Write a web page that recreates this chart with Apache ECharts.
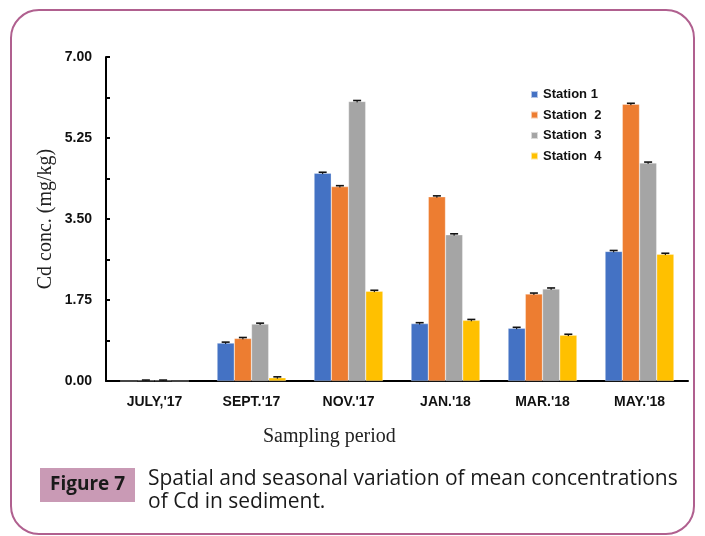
<!DOCTYPE html>
<html>
<head>
<meta charset="utf-8">
<script src="https://cdn.jsdelivr.net/npm/echarts@6/dist/echarts.min.js"></script>
<style>html,body{margin:0;padding:0;background:#fff;}#c{width:705px;height:536px;}</style>
</head>
<body>
<div id="c"></div>
<script>
var categories = ["JULY,'17", "SEPT.'17", "NOV.'17", "JAN.'18", "MAR.'18", "MAY.'18"];
var seriesNames = ["Station 1", "Station  2", "Station  3", "Station  4"];
var station1 = [0.00, 0.82, 4.49, 1.24, 1.14, 2.80];
var station2 = [0.01, 0.92, 4.20, 3.98, 1.88, 5.98];
var station3 = [0.01, 1.23, 6.04, 3.16, 1.99, 4.71];
var station4 = [0.00, 0.07, 1.94, 1.31, 0.99, 2.74];
var err1 = [0.00, 0.02, 0.02, 0.02, 0.02, 0.02];
var err2 = [0.01, 0.02, 0.02, 0.02, 0.02, 0.02];
var err3 = [0.01, 0.02, 0.02, 0.02, 0.02, 0.02];
var err4 = [0.00, 0.02, 0.02, 0.02, 0.02, 0.02];
var yTicks = [0, 1.75, 3.5, 5.25, 7];
var colors = ['#4472C4', '#ED7D31', '#A5A5A5', '#FFC000'];

var values = [station1, station2, station3, station4];
var errs = [err1, err2, err3, err4];
var catGap = 0.29;

var chart = echarts.init(document.getElementById('c'));
var series = [];
values.forEach(function (v, s) {
  series.push({
    name: seriesNames[s], type: 'bar', data: v,
    barGap: '0%', barCategoryGap: (catGap * 100) + '%',
    itemStyle: { color: colors[s], borderColor: 'rgba(255,255,255,0.6)', borderWidth: 0.5 },
    z: 2
  });
});
var errData = [];
values.forEach(function (v, s) {
  v.forEach(function (val, i) {
    if (val > 0 || errs[s][i] > 0) errData.push([i, val, errs[s][i], s]);
  });
});
series.push({
  type: 'custom', data: errData, z: 5, silent: true, legendHoverLink: false,
  renderItem: function (params, api) {
    var i = api.value(0), val = api.value(1), e = api.value(2), s = api.value(3);
    var band = api.size([1, 0])[0];
    var bw = band * (1 - catGap) / 4;
    var cx = api.coord([i, val])[0] + (s - 1.5) * bw;
    var yTop = api.coord([i, val + e])[1];
    var yBot = api.coord([i, Math.max(val - e, 0)])[1];
    var half = 4;
    return {
      type: 'group', children: [
        { type: 'line', shape: { x1: cx, y1: yBot, x2: cx, y2: yTop }, style: { stroke: '#000', lineWidth: 1 } },
        { type: 'line', shape: { x1: cx - half, y1: yTop, x2: cx + half, y2: yTop }, style: { stroke: '#111', lineWidth: 1.6 } }
      ]
    };
  }
});

chart.setOption({
  animation: false,
  grid: { left: 106, right: 17, top: 57, bottom: 155 },
  legend: {
    data: seriesNames, orient: 'vertical', left: 525, top: 83,
    itemWidth: 7, itemHeight: 7, itemGap: 7.5, icon: 'rect',
    textStyle: { fontFamily: '"Liberation Sans", Arial, sans-serif', fontWeight: 'bold', fontSize: 13, color: '#111' }
  },
  xAxis: {
    type: 'category', data: categories,
    axisLine: { lineStyle: { color: '#000', width: 2 } },
    axisTick: { inside: true, length: 4, lineStyle: { color: '#000', width: 2 } },
    axisLabel: { margin: 14, fontFamily: '"Liberation Sans", Arial, sans-serif', fontWeight: 'bold', fontSize: 14, color: '#111' }
  },
  yAxis: {
    type: 'value', min: 0, max: 7, interval: 0.875,
    name: 'Cd conc. (mg/kg)', nameLocation: 'middle', nameGap: 50, nameMoveOverlap: false,
    nameTextStyle: { fontFamily: '"Liberation Serif", "Times New Roman", serif', fontSize: 20, color: '#222' },
    splitLine: { show: false },
    axisLine: { show: true, lineStyle: { color: '#000', width: 2 } },
    axisTick: { show: true, inside: true, length: 4, lineStyle: { color: '#000', width: 2 } },
    axisLabel: {
      margin: 14, fontFamily: '"Liberation Sans", Arial, sans-serif', fontWeight: 'bold', fontSize: 14, color: '#111',
      formatter: function (v) {
        for (var k = 0; k < yTicks.length; k++) if (Math.abs(yTicks[k] - v) < 1e-6) return v.toFixed(2);
        return '';
      }
    }
  },
  series: series,
  graphic: [
    { type: 'rect', z: -1, shape: { x: 11, y: 10, width: 683, height: 524, r: 28 },
      style: { fill: 'none', stroke: '#B0608F', lineWidth: 2 } },
    { type: 'text', left: 263, top: 427, style: { text: 'Sampling period', font: '20px "Liberation Serif", "Times New Roman", serif', fill: '#222' } },
    { type: 'rect', shape: { x: 40, y: 468, width: 95, height: 34 }, style: { fill: '#C99AB5' } },
    { type: 'text', x: 87.5, y: 485, style: { text: 'Figure 7', font: 'bold 19px "Open Sans", sans-serif', fill: '#1a1a1a', align: 'center', verticalAlign: 'middle' } },
    { type: 'text', x: 148, y: 468, style: { text: 'Spatial and seasonal variation of mean concentrations\nof Cd in sediment.', font: '21px "Open Sans", sans-serif', fill: '#1a1a1a', lineHeight: 23 } }
  ]
});
</script>
</body>
</html>
